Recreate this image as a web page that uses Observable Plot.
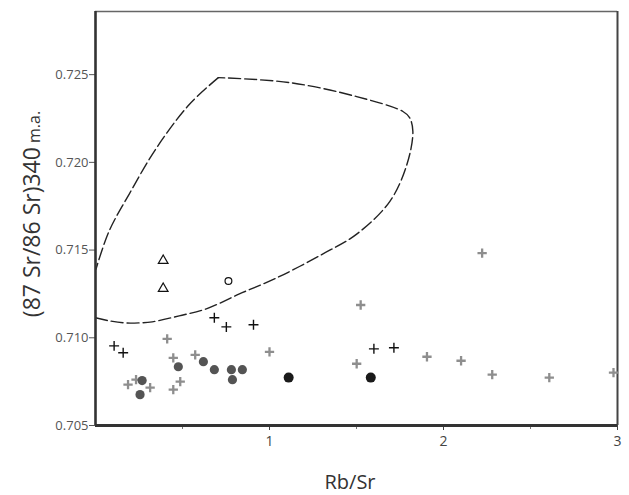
<!DOCTYPE html>
<html>
<head>
<meta charset="utf-8">
<script src="https://cdn.jsdelivr.net/npm/d3@7"></script>
<script src="https://cdn.jsdelivr.net/npm/@observablehq/plot@0.6"></script>
<style>
  html, body { margin: 0; padding: 0; background: #fff; }
  #chart { width: 629px; height: 495px; }
  svg { font-family: "Open Sans", "DejaVu Sans", sans-serif; }
</style>
</head>
<body>
<div id="chart"></div>
<script>
// ---- data ----
const xTicks = [1, 2, 3];
const xMinorTicks = [0.5, 1.5, 2.5];
const yTicks = [0.705, 0.710, 0.715, 0.720, 0.725];
const xLabel = "Rb/Sr";
const yLabelMain = "(87 Sr/86 Sr)340";
const yLabelSub = " m.a.";

// black crisp crosses
const crossBlackX = [0.107, 0.159, 0.683, 0.752, 0.908, 1.600, 1.715];
const crossBlackY = [0.70954, 0.70915, 0.71114, 0.71062, 0.71074, 0.70937, 0.70943];
// grey crosses
const crossGrayX = [0.187, 0.233, 0.314, 0.412, 0.447, 0.447, 0.487, 0.573, 1.000, 1.501, 1.524, 1.905, 2.101, 2.222, 2.280, 2.608, 2.977];
const crossGrayY = [0.70733, 0.70761, 0.70716, 0.70994, 0.70886, 0.70705, 0.70750, 0.70903, 0.70920, 0.70852, 0.71187, 0.70892, 0.70869, 0.71483, 0.70790, 0.70773, 0.70801];
// dark grey filled dots
const darkDotX = [0.256, 0.268, 0.476, 0.620, 0.683, 0.781, 0.787, 0.844];
const darkDotY = [0.70676, 0.70756, 0.70835, 0.70864, 0.70818, 0.70818, 0.70761, 0.70818];
// black filled dots
const blackDotX = [1.110, 1.582];
const blackDotY = [0.70773, 0.70773];
// open triangles
const triX = [0.389, 0.389];
const triY = [0.7144, 0.7128];
// open circle
const circX = [0.764];
const circY = [0.71324];

// dashed envelope: lower/right/top part (to apex), then left side (apex down)
const envAX = [0.000, 0.078, 0.164, 0.251, 0.326, 0.481, 0.637, 0.827, 1.040, 1.305, 1.501, 1.692, 1.790, 1.824, 1.805, 1.767, 1.501, 1.115, 0.706];
const envAY = [0.71114, 0.71097, 0.71085, 0.71085, 0.71091, 0.71125, 0.71165, 0.71250, 0.71341, 0.71477, 0.71591, 0.71778, 0.71989, 0.72176, 0.72255, 0.72290, 0.72375, 0.72455, 0.72483];
const envBX = [0.706, 0.539, 0.349, 0.193, 0.078, 0.003];
const envBY = [0.72483, 0.72330, 0.72080, 0.71818, 0.71608, 0.71392];

const xDomain = [0, 3];
const yDomain = [0.705, 0.7286];

// ---- build tables ----
const zip = (xs, ys) => xs.map((x, i) => ({x, y: ys[i]}));
const crossBlack = zip(crossBlackX, crossBlackY);
const crossGray = zip(crossGrayX, crossGrayY);
const darkDots = zip(darkDotX, darkDotY);
const blackDots = zip(blackDotX, blackDotY);
const tris = zip(triX, triY);
const circs = zip(circX, circY);
const envA = zip(envAX, envAY);
const envB = zip(envBX, envBY);

const W = 629, H = 495;
const chart = Plot.plot({
  width: W,
  height: H,
  marginLeft: 95,
  marginRight: 12,
  marginTop: 11,
  marginBottom: 70,
  x: {domain: xDomain},
  y: {domain: yDomain},
  style: {background: "#fff", fontFamily: "'Open Sans', 'DejaVu Sans', sans-serif"},
  marks: [
    // frame
    Plot.ruleY([yDomain[1]], {stroke: "#666", strokeWidth: 1.5}),
    Plot.ruleX([xDomain[1]], {stroke: "#444", strokeWidth: 2}),
    // envelope
    Plot.line(envA, {x: "x", y: "y", curve: "catmull-rom", stroke: "#222", strokeWidth: 1.4, strokeDasharray: "12,4", clip: true}),
    Plot.line(envB, {x: "x", y: "y", curve: "catmull-rom", stroke: "#222", strokeWidth: 1.4, strokeDasharray: "12,4", clip: true}),
    // points
    Plot.dot(crossGray, {x: "x", y: "y", symbol: "plus", r: 3.1, stroke: "#8e8e8e", strokeWidth: 2.3}),
    Plot.dot(darkDots, {x: "x", y: "y", symbol: "circle", r: 4.6, fill: "#545454", stroke: "none"}),
    Plot.dot(blackDots, {x: "x", y: "y", symbol: "circle", r: 5, fill: "#1a1a1a", stroke: "none"}),
    Plot.dot(crossBlack, {x: "x", y: "y", symbol: "plus", r: 3.3, stroke: "#111", strokeWidth: 1.4}),
    Plot.dot(tris, {x: "x", y: "y", symbol: "triangle", r: 3.6, fill: "none", stroke: "#111", strokeWidth: 1.2}),
    Plot.dot(circs, {x: "x", y: "y", symbol: "circle", r: 3.4, fill: "none", stroke: "#111", strokeWidth: 1.2}),
    // axes
    Plot.axisY({ticks: yTicks, tickFormat: d3.format(".3f"), tickSize: 6, tickPadding: 1, fontSize: 13, color: "#555", label: null}),
    Plot.axisX({ticks: xTicks, tickFormat: d3.format("d"), tickSize: 5, tickPadding: 6, fontSize: 14, color: "#444", label: null}),
    Plot.axisX({ticks: xMinorTicks, tickSize: 4, tickFormat: () => "", color: "#777", label: null}),
    Plot.ruleX([xDomain[0]], {stroke: "#333", strokeWidth: 2.6}),
    Plot.ruleY([yDomain[0]], {stroke: "#333", strokeWidth: 2.8})
  ]
});

document.getElementById("chart").appendChild(chart);

// axis titles
const svg = d3.select(chart);
svg.append("text")
  .attr("x", 350).attr("y", 489)
  .attr("text-anchor", "middle")
  .attr("font-size", 20)
  .attr("fill", "#333")
  .text(xLabel);

const yl = svg.append("text")
  .attr("transform", "translate(40,214) rotate(-90)")
  .attr("text-anchor", "middle")
  .attr("fill", "#333");
yl.append("tspan").attr("font-size", 23).text(yLabelMain);
yl.append("tspan").attr("font-size", 16).text(yLabelSub);
</script>
</body>
</html>
